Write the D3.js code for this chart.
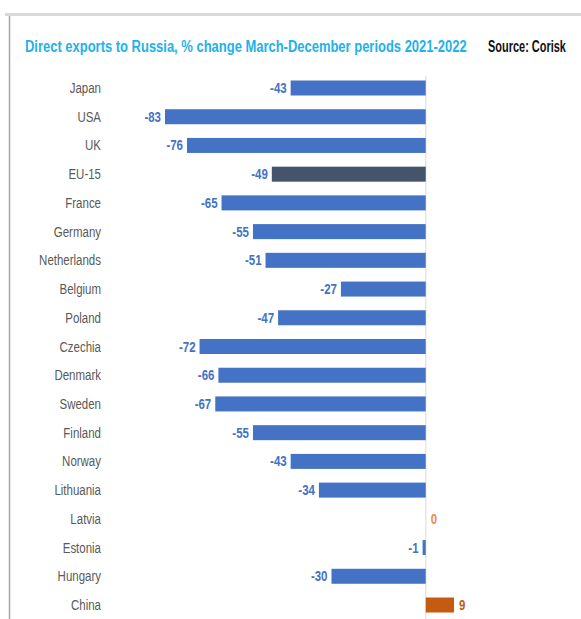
<!DOCTYPE html>
<html>
<head>
<meta charset="utf-8">
<script src="https://cdn.jsdelivr.net/npm/d3@7"></script>
<style>
  body { margin: 0; background: #fff; }
  svg { display: block; }
</style>
</head>
<body>
<svg width="581" height="619"></svg>
<script>
var countries = ['Japan', 'USA', 'UK', 'EU-15', 'France', 'Germany', 'Netherlands', 'Belgium', 'Poland',
                 'Czechia', 'Denmark', 'Sweden', 'Finland', 'Norway', 'Lithuania', 'Latvia', 'Estonia', 'Hungary', 'China'];
var changes   = [-43, -83, -76, -49, -65, -55, -51, -27, -47, -72, -66, -67, -55, -43, -34, 0, -1, -30, 9];

var font = '"Liberation Sans", Arial, sans-serif';
var squeeze = 0.82;
var svg = d3.select('svg');

// frame
svg.append('line').attr('x1', 5).attr('x2', 581).attr('y1', 14.5).attr('y2', 14.5)
   .style('stroke', '#d9d9d9').style('stroke-width', 3);
svg.append('line').attr('x1', 9.5).attr('x2', 9.5).attr('y1', 16).attr('y2', 619)
   .style('stroke', '#a6a6a6').style('stroke-width', 1.5);

// squeeze a text horizontally so it spans a given width
function fitText(x0, y0, str, width, size, color) {
  var t = svg.append('text')
     .text(str)
     .style('font-family', font).style('font-size', size + 'px').style('font-weight', 'bold')
     .style('fill', color);
  var len = t.node().getComputedTextLength();
  t.attr('transform', 'translate(' + x0 + ',' + y0 + ') scale(' + (width / len) + ',1)');
  return t;
}
fitText(25, 52, 'Direct exports to Russia, % change March-December periods 2021-2022', 442, 17, '#1fb1ea');
fitText(488, 52, 'Source: Corisk', 78, 16, '#111');

var x = d3.scaleLinear().domain([-83, 9]).range([165, 454]);
var y = d3.scalePoint().domain(countries).range([88, 605]);
var barH = 15;

svg.append('line').attr('x1', x(0)).attr('x2', x(0)).attr('y1', 76).attr('y2', 619)
   .style('stroke', '#e6e6e6').style('stroke-width', 1.5);

function barColor(d, i) {
  if (countries[i] === 'EU-15') return '#44546a';
  if (d > 0) return '#c55a11';
  return '#4472c4';
}

svg.selectAll('rect.bar').data(changes).enter().append('rect')
   .attr('class', 'bar')
   .attr('x', function(d) { return x(Math.min(0, d)); })
   .attr('y', function(d, i) { return y(countries[i]) - barH / 2; })
   .attr('width', function(d) { return Math.abs(x(d) - x(0)); })
   .attr('height', barH)
   .style('fill', barColor);

svg.selectAll('text.cat').data(countries).enter().append('text')
   .attr('class', 'cat')
   .attr('transform', function(d) { return 'translate(101,' + y(d) + ') scale(' + squeeze + ',1)'; })
   .attr('dy', '0.36em')
   .attr('text-anchor', 'end')
   .text(function(d) { return d; })
   .style('font-family', font).style('font-size', '14px').style('fill', '#595959');

svg.selectAll('text.val').data(changes).enter().append('text')
   .attr('class', 'val')
   .attr('transform', function(d, i) {
     var tx = d < 0 ? x(d) - 4 : x(d) + 5;
     return 'translate(' + tx + ',' + y(countries[i]) + ') scale(' + squeeze + ',1)';
   })
   .attr('dy', '0.36em')
   .attr('text-anchor', function(d) { return d < 0 ? 'end' : 'start'; })
   .text(function(d) { return d; })
   .style('font-family', font).style('font-size', '14px').style('font-weight', 'bold')
   .style('fill', function(d, i) {
     if (d === 0) return '#f08a4b';
     if (d > 0) return '#c55a11';
     return '#4472c4';
   });
</script>
</body>
</html>
